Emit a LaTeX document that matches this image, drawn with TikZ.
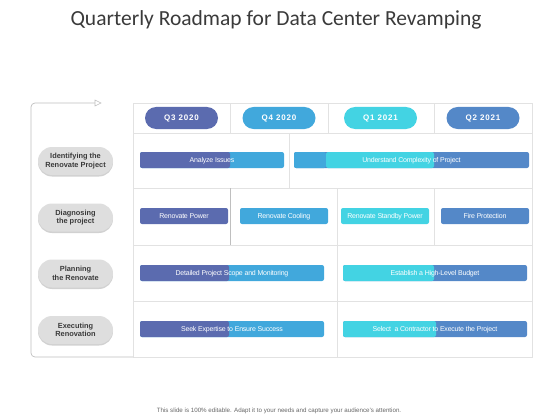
\documentclass[tikz,border=0pt]{standalone}
\usepackage{fontspec}
\setmainfont{Liberation Sans}
\newfontfamily\titlefont{Carlito}
\newfontfamily\qfont[LetterSpace=10]{Liberation Sans}
\newfontfamily\barfont[LetterSpace=-3]{Liberation Sans}
\usetikzlibrary{shadows,arrows.meta}
\definecolor{cA}{HTML}{5B6BAF}
\definecolor{cB}{HTML}{41A8DC}
\definecolor{cC}{HTML}{43D3E3}
\definecolor{cD}{HTML}{5488C8}
\definecolor{gridc}{HTML}{E2E2E2}
\definecolor{pillc}{HTML}{DEDEDE}
\definecolor{txtc}{HTML}{3A3A3A}
\tikzset{
  grid/.style={draw=gridc, line width=0.8pt},
  qpill/.style={rounded corners=11pt, minimum width=73pt, minimum height=22pt, inner sep=0pt, text=white, text height=5.8pt, text depth=0pt, font=\qfont\bfseries\fontsize{8}{9}\selectfont},
  bar/.style={rounded corners=2pt, minimum height=16pt, inner sep=0pt, text=white, text height=5pt, text depth=0pt, font=\barfont\fontsize{7}{8}\selectfont},
  lpill/.style={rounded corners=14pt, fill=pillc, minimum width=75pt, minimum height=28pt, inner sep=0pt, align=center, text=txtc, font=\bfseries\fontsize{7.4}{8.6}\selectfont,
     drop shadow={shadow xshift=0pt, shadow yshift=-1.5pt, fill=black!30, opacity=0.6}},
  frame/.style={draw=black!25, line width=0.7pt}
}
\begin{document}
\begin{tikzpicture}[x=1pt,y=-1pt]
\useasboundingbox (0,0) rectangle (560,420);
% title
\node[font=\titlefont\fontsize{21.5}{24}\selectfont, text=txtc] (title) at (276,20) {Quarterly Roadmap for Data Center Revamping};
% table grid
\draw[grid] (133,103) rectangle (532,357);
\draw[grid] (133,133) -- (532,133);
\draw[grid] (133,188) -- (532,188);
\draw[grid] (133,245) -- (532,245);
\draw[grid] (133,301) -- (532,301);
\draw[grid] (230,103) -- (230,133);
\draw[grid] (328,103) -- (328,133);
\draw[grid] (434,103) -- (434,133);
\draw[grid] (289,133) -- (289,188);
\draw[draw=black!25, line width=0.8pt] (230,188) -- (230,245);
\draw[grid] (337,188) -- (337,245);
\draw[grid] (434,188) -- (434,245);
\draw[grid] (337,245) -- (337,357);
% left frame
\coordinate (fa) at (95,103);
\coordinate (fb) at (133,357);
\draw[frame, rounded corners=4pt] (fa) -- (31,103) -- (31,357) -- (fb);
\draw[draw=black!25, fill=white, line width=0.6pt] (fa) -- ++(0,-3) -- ++(6,3) -- ++(-6,3) -- cycle;
% quarter pills
\node[qpill, fill=cA] (q1) at (181.5,118) {Q3 2020};
\node[qpill, fill=cB] (q2) at (279,118) {Q4 2020};
\node[qpill, fill=cC] (q3) at (380.5,118) {Q1 2021};
\node[qpill, fill=cD] (q4) at (483,118) {Q2 2021};
% left pills
\node[lpill] (l1) at (75.5,161) {Identifying the\\Renovate Project};
\node[lpill] (l2) at (75.5,217.5) {Diagnosing\\the project};
\node[lpill] (l3) at (75.5,273.5) {Planning\\the Renovate};
\node[lpill] (l4) at (75.5,330) {Executing\\Renovation};
% row 1
\node[bar, fill=cB, minimum width=144pt, path picture={\fill[cA] (path picture bounding box.south west) rectangle ++(90pt,16pt);}] (b1) at (212,160) {Analyze Issues};
\node[bar, fill=cD, minimum width=235pt, path picture={\fill[cB] (path picture bounding box.south west) rectangle ++(32pt,16pt);\fill[cC] ([xshift=32pt]path picture bounding box.south west) rectangle ++(108pt,16pt);}] (b2) at (411.5,160) {Understand Complexity of Project};
% row 2
\node[bar, fill=cA, minimum width=88pt] (b3) at (184,216) {Renovate Power};
\node[bar, fill=cB, minimum width=88pt] (b4) at (284,216) {Renovate Cooling};
\node[bar, fill=cC, minimum width=88pt] (b5) at (385,216) {Renovate Standby Power};
\node[bar, fill=cD, minimum width=88pt] (b6) at (485,216) {Fire Protection};
% row 3
\node[bar, fill=cB, minimum width=184pt, path picture={\fill[cA] (path picture bounding box.south west) rectangle ++(89pt,16pt);}] (b7) at (232,273) {Detailed Project Scope and Monitoring};
\node[bar, fill=cD, minimum width=184pt, path picture={\fill[cC] (path picture bounding box.south west) rectangle ++(91pt,16pt);}] (b8) at (435,273) {Establish a High-Level Budget};
% row 4
\node[bar, fill=cB, minimum width=184pt, path picture={\fill[cA] (path picture bounding box.south west) rectangle ++(89pt,16pt);}] (b9) at (232,329) {Seek Expertise to Ensure Success};
\node[bar, fill=cD, minimum width=184pt, path picture={\fill[cC] (path picture bounding box.south west) rectangle ++(93pt,16pt);}] (b10) at (435,329) {Select\ \ a Contractor to Execute the Project};
% footer
\node[font=\fontsize{6.2}{7}\selectfont, text=black!60] (foot) at (279,411) {This slide is 100\% editable. Adapt it to your needs and capture your audience's attention.};
\end{tikzpicture}
\end{document}
